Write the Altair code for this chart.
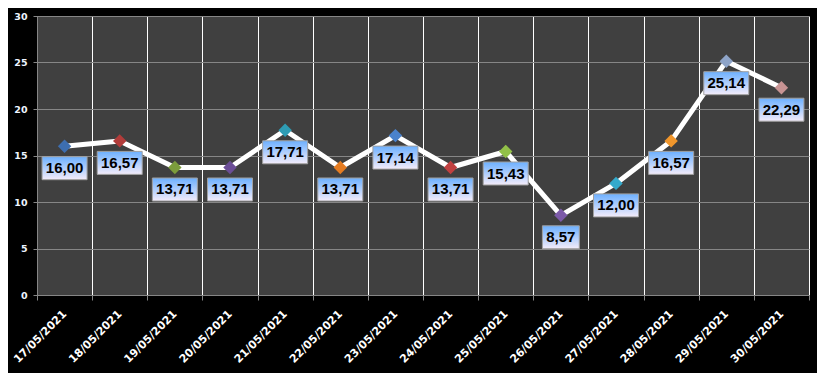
import altair as alt
import pandas as pd

dates = ["17/05/2021", "18/05/2021", "19/05/2021", "20/05/2021", "21/05/2021",
         "22/05/2021", "23/05/2021", "24/05/2021", "25/05/2021", "26/05/2021",
         "27/05/2021", "28/05/2021", "29/05/2021", "30/05/2021"]
values = [16.00, 16.57, 13.71, 13.71, 17.71, 13.71, 17.14, 13.71, 15.43, 8.57,
          12.00, 16.57, 25.14, 22.29]
marker_colors = ["#3d6eb0", "#b23c3a", "#7c9c3c", "#6b4d96", "#2e9cb4", "#e47c22",
                 "#4a82cc", "#c04040", "#92c048", "#7c5aa8", "#34aacc", "#f0962c",
                 "#8ea4c8", "#c89494"]
y_ticks = [0, 5, 10, 15, 20, 25, 30]

labels = [f"{v:.2f}".replace(".", ",") for v in values]


def box_path(n):
    hw = 1.0 if n >= 5 else 0.82
    hh = 0.511
    return f"M{-hw},{-hh}L{hw},{-hh}L{hw},{hh}L{-hw},{hh}Z"


df = pd.DataFrame({
    "date": dates,
    "value": values,
    "color": marker_colors,
    "label": labels,
    "box": [box_path(len(s)) for s in labels],
})

x = alt.X(
    "date:O", sort=dates, title=None,
    scale=alt.Scale(paddingInner=0, paddingOuter=0),
    axis=alt.Axis(labelAngle=-45, labelAlign="right", labelBaseline="middle",
                  labelPadding=12, tickBand="extent", grid=True, gridColor="#ffffff",
                  gridWidth=1, tickSize=5, labelFont="DejaVu Sans", labelFontSize=11,
                  labelFontWeight="bold", labelColor="#ffffff"),
)
y = alt.Y(
    "value:Q", title=None,
    scale=alt.Scale(domain=[0, 30], nice=False),
    axis=alt.Axis(values=y_ticks, grid=True, gridColor="#868686", tickSize=4,
                  labelPadding=6, labelFont="DejaVu Sans", labelFontSize=9.5,
                  labelFontWeight="bold", labelColor="#eef4ff"),
)

base = alt.Chart(df).encode(x=x, y=y)

line = base.mark_line(color="#ffffff", strokeWidth=5, strokeJoin="round")

grad = alt.Gradient(
    gradient="linear",
    stops=[alt.GradientStop(color="#6cb0ff", offset=0),
           alt.GradientStop(color="#f4ecfa", offset=1)],
    x1=0, x2=0, y1=0, y2=1,
)

boxes = base.mark_point(filled=True, fill=grad, stroke="#a0a0a0", strokeWidth=1,
                        size=2025, yOffset=22, opacity=1).encode(
    shape=alt.Shape("box:N", scale=None)
)

texts = base.mark_text(font="Liberation Sans", fontSize=15, fontWeight="bold",
                       color="#000000", yOffset=22, baseline="middle").encode(
    text="label:N"
)

diamonds = base.mark_point(shape="diamond", filled=True, size=180, opacity=1).encode(
    color=alt.Color("color:N", scale=None)
)

chart = alt.layer(line, boxes, texts, diamonds).properties(
    width=772, height=279,
    autosize=alt.AutoSizeParams(type="none"),
    padding={"left": 29, "top": 8, "right": 8, "bottom": 78},
    background="#000000",
).configure_view(
    fill="#404040", stroke="transparent"
).configure_axis(
    domainColor="#868686", tickColor="#868686", domainWidth=1
)

chart.save("out.html", embed_options={"renderer": "svg", "actions": False})
